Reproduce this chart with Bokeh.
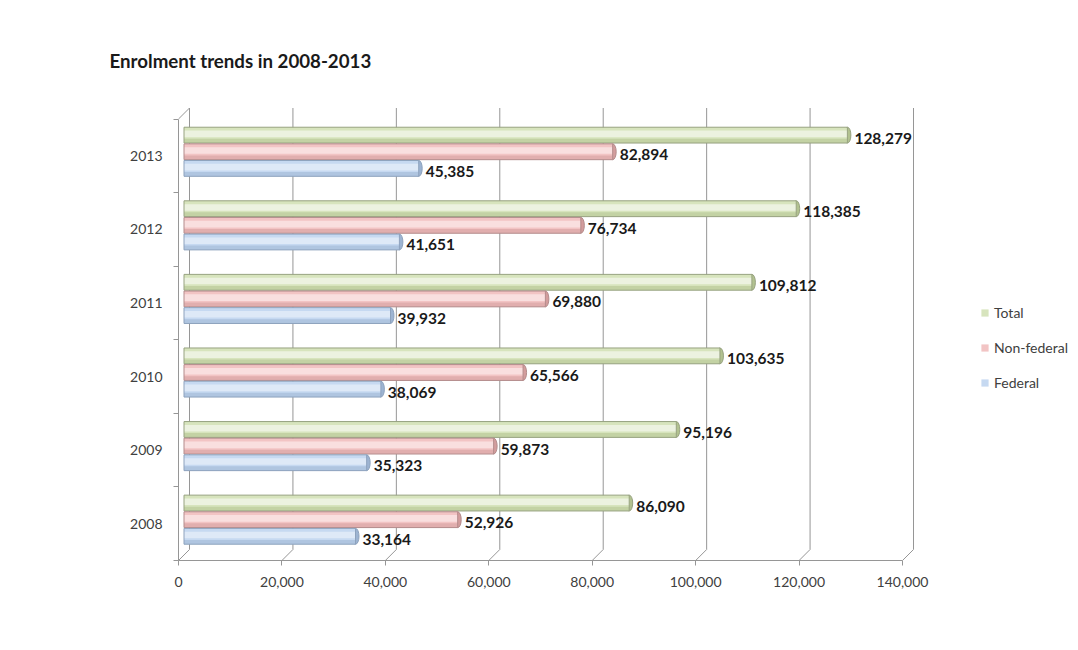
from bokeh.plotting import figure
from bokeh.models import (ColumnDataSource, Range1d, LinearAxis, FixedTicker,
                          Legend, LegendItem, Title, NumeralTickFormatter)
from bokeh.core.properties import value
from bokeh.embed import file_html
from bokeh.resources import INLINE

# ---------------- data ----------------
years = ["2008", "2009", "2010", "2011", "2012", "2013"]
total = [86090, 95196, 103635, 109812, 118385, 128279]
non_federal = [52926, 59873, 65566, 69880, 76734, 82894]
federal = [33164, 35323, 38069, 39932, 41651, 45385]
series_names = ["Total", "Non-federal", "Federal"]
x_ticks = [0, 20000, 40000, 60000, 80000, 100000, 120000, 140000]
title_text = "Enrolment trends in 2008-2013"

# ---------------- layout / style constants ----------------
W, H = 1076, 648
B_LEFT, B_RIGHT, B_TOP = 178, 0, 100
B_BOTTOM = H - 560
FRAME_W = W - B_LEFT - B_RIGHT
FRAME_H = H - B_TOP - B_BOTTOM
PX_PER_X = 724 / x_ticks[-1]
PX_PER_Y = 441.5 / len(years)
X_END = FRAME_W / PX_PER_X
Y_END = FRAME_H / PX_PER_Y
DEPTH = 11
DX = DEPTH / PX_PER_X
DY = DEPTH / PX_PER_Y
GROUP_C = 0.48
BAR_STEP = 0.226
BAR_H = 0.215
FONT = "Lato"
WALL = "#969696"

styles = {
    "Total":       dict(base="#d7e4bd", light="#ecf2e0", dark="#b2c290", edge="#97a280"),
    "Non-federal": dict(base="#f2c4c4", light="#f9dfdf", dark="#d39d9d", edge="#b38b8b"),
    "Federal":     dict(base="#c6d9f1", light="#dee9f7", dark="#9db4d2", edge="#8da2bd"),
}
offsets = {"Total": BAR_STEP, "Non-federal": 0.0, "Federal": -BAR_STEP}

p = figure(width=W, height=H, x_range=Range1d(0, X_END), y_range=Range1d(0, Y_END),
           output_backend="svg", toolbar_location=None,
           x_axis_location=None, y_axis_location=None,
           min_border_left=B_LEFT, min_border_right=B_RIGHT,
           min_border_top=B_TOP, min_border_bottom=B_BOTTOM)
p.outline_line_color = None
p.background_fill_color = "white"
p.border_fill_color = "white"
p.xgrid.visible = False
p.ygrid.visible = False

# ---------------- axes (front plane) ----------------
xa = LinearAxis(ticker=FixedTicker(ticks=x_ticks), formatter=NumeralTickFormatter(format="0,0"),
                bounds=(0, x_ticks[-1]),
                axis_line_color=WALL, major_tick_line_color=WALL,
                major_tick_out=5, major_tick_in=0, minor_tick_line_color=None,
                major_label_standoff=11,
                major_label_text_font=FONT, major_label_text_font_size="14px",
                major_label_text_color="#404040")
p.add_layout(xa, "below")

centers = [i + 0.5 for i in range(len(years))]
ya = LinearAxis(ticker=FixedTicker(ticks=centers, minor_ticks=list(range(len(years) + 1))),
                major_label_overrides={c: y for c, y in zip(centers, years)},
                bounds=(0, len(years)),
                axis_line_color=WALL, major_tick_line_color=None,
                major_tick_out=0, major_tick_in=0,
                minor_tick_line_color=WALL, minor_tick_out=5, minor_tick_in=0,
                major_label_standoff=11,
                major_label_text_font=FONT, major_label_text_font_size="14px",
                major_label_text_color="#404040")
p.add_layout(ya, "left")

# ---------------- back wall and floor edges ----------------
back_x = [t + DX for t in x_ticks]
n = len(years)
p.segment(x0=back_x, y0=[DY] * len(back_x), x1=back_x, y1=[n + DY] * len(back_x),
          line_color=WALL, line_width=1)
p.segment(x0=x_ticks, y0=[0] * len(x_ticks), x1=back_x, y1=[DY] * len(x_ticks),
          line_color=WALL, line_width=1)
p.segment(x0=[0], y0=[n], x1=[DX], y1=[n + DY], line_color=WALL, line_width=1)

# ---------------- bars (cylinder-like) ----------------
legend_items = []
for name, vals in zip(series_names, [total, non_federal, federal]):
    st = styles[name]
    yc = [i + GROUP_C + DY / 2 + offsets[name] for i in range(n)]
    src = ColumnDataSource(dict(
        y=yc,
        y_hi=[v + BAR_H * 0.08 for v in yc],
        y_lo=[v - BAR_H * 0.36 for v in yc],
        right=[v + DX / 2 for v in vals],
        label=[f"{v:,}" for v in vals],
    ))
    p.ellipse(x="right", y="y", width=7, width_units="screen", height=BAR_H, source=src,
              fill_color=st["dark"], line_color=st["edge"], line_width=1)
    base = p.hbar(y="y", left=DX / 2, right="right", height=BAR_H, source=src,
                  fill_color=st["base"], line_color=None)
    p.hbar(y="y_hi", left=DX / 2, right="right", height=BAR_H * 0.42, source=src,
           fill_color=st["light"], line_color=None)
    p.hbar(y="y_lo", left=DX / 2, right="right", height=BAR_H * 0.26, source=src,
           fill_color=st["dark"], fill_alpha=0.55, line_color=None)
    p.hbar(y="y", left=DX / 2, right="right", height=BAR_H, source=src,
           fill_color=None, line_color=st["edge"], line_width=1)
    p.text(x="right", y="y", text="label", source=src, x_offset=7, y_offset=3,
           text_baseline="middle", text_align="left",
           text_font=value(FONT), text_font_style="bold", text_font_size="15.5px",
           text_color="#1a1a1a")
    legend_items.append(LegendItem(label=name, renderers=[base]))

legend = Legend(items=legend_items, location=(802, 168), orientation="vertical",
                glyph_width=9, glyph_height=9, label_height=20, spacing=15,
                padding=0, margin=0, border_line_color=None, background_fill_alpha=0,
                label_text_font=FONT, label_text_font_size="14px",
                label_text_color="#404040", label_standoff=5)
p.add_layout(legend)

title = Title(text=title_text, align="left", offset=-69, standoff=57,
              text_font=FONT, text_font_style="bold", text_font_size="18.7px",
              text_color="#1a1a1a")
p.add_layout(title, "above")

open("out.html", "w").write(file_html(p, INLINE))
